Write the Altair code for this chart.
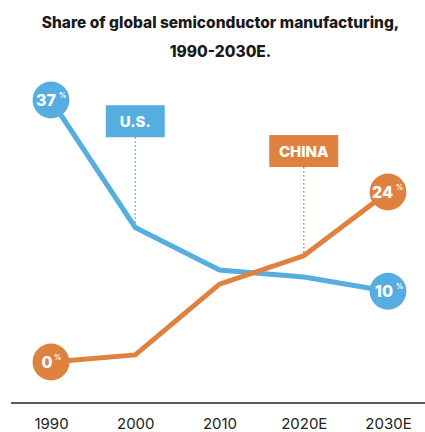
import altair as alt
import pandas as pd

years = ["1990", "2000", "2010", "2020E", "2030E"]
us_share = [37, 19, 13, 12, 10]
china_share = [0, 1, 11, 15, 24]
series = ["U.S.", "China"]
colors = ["#56ADE0", "#E0823F"]
dot_colors = ["#7FBFE8", "#E69A66"]

tag_text = ["U.S.", "CHINA"]
tag_series = ["U.S.", "China"]
tag_year = ["2000", "2020E"]
tag_center = [34.0, 29.8]
tag_target = [19, 15]
tag_width = [59, 69]
tag_half = 2.26

title_lines = ["Share of global semiconductor manufacturing,", "1990-2030E."]

FONT = "Inter"
W, H = 425, 333

rows = []
for s, vals in zip(series, [us_share, china_share]):
    for i, (y, v) in enumerate(zip(years, vals)):
        rows.append({"year": y, "series": s, "share": v,
                     "end": i in (0, len(years) - 1), "label": str(v), "pct": "%"})
df = pd.DataFrame(rows)
ends = df[df["end"]]

tags = pd.DataFrame({
    "tag": tag_text, "series": tag_series, "year": tag_year,
    "center": tag_center, "target": tag_target,
})
tags["top"] = tags["center"] + tag_half
tags["bottom"] = tags["center"] - tag_half

xenc = alt.X("year:O", sort=years,
             scale=alt.Scale(type="point", domain=years, range=[51, 388], padding=0),
             axis=alt.Axis(title=None, domain=False, ticks=False, grid=False,
                           labelAngle=0, labelFont=FONT, labelFontSize=15, labelFontWeight=400,
                           labelColor="#222222", labelPadding=13))
yscale = alt.Scale(domain=[0, 37], range=[292, 30], nice=False, zero=False)
color = alt.Color("series:N", scale=alt.Scale(domain=series, range=colors), legend=None)

lines = []
for s in series:
    lines.append(
        alt.Chart(df[df["series"] == s]).mark_line(strokeWidth=5, strokeJoin="miter").encode(
            x=xenc, y=alt.Y("share:Q", scale=yscale, axis=None), color=color, order="year:O")
    )

dots = alt.Chart(tags).mark_rule(strokeWidth=1.5, strokeDash=[1.5, 2.5]).encode(
    x=xenc, y=alt.Y("bottom:Q", scale=yscale, axis=None), y2="target:Q",
    color=alt.Color("series:N", scale=alt.Scale(domain=series, range=dot_colors), legend=None))

boxes = []
for i in range(len(tag_text)):
    boxes.append(
        alt.Chart(tags.iloc[[i]]).mark_bar(width=tag_width[i], color=colors[i]).encode(
            x=xenc, y=alt.Y("bottom:Q", scale=yscale, axis=None), y2="top:Q")
    )
tag_labels = alt.Chart(tags).mark_text(font=FONT, fontSize=15, fontWeight=800,
                                       color="white", baseline="middle", dy=1).encode(
    x=xenc, y=alt.Y("center:Q", scale=yscale, axis=None), text="tag:N")

circles = alt.Chart(ends).mark_circle(size=1360, opacity=1).encode(
    x=xenc, y=alt.Y("share:Q", scale=yscale, axis=None), color=color)

two = ends[ends["share"] >= 10]
one = ends[ends["share"] < 10]
nums = []
for d, ndx, pdx in [(two, 5, 8), (one, 1.5, 3)]:
    nums.append(alt.Chart(d).mark_text(font=FONT, fontSize=16, fontWeight=800, color="white",
                                       align="right", baseline="middle", dx=ndx, dy=1).encode(
        x=xenc, y=alt.Y("share:Q", scale=yscale, axis=None), text="label:N"))
    nums.append(alt.Chart(d).mark_text(font=FONT, fontSize=7, fontWeight=800, color="white",
                                       align="left", baseline="middle", dx=pdx, dy=-4).encode(
        x=xenc, y=alt.Y("share:Q", scale=yscale, axis=None), text="pct:N"))

axis_line = alt.Chart(pd.DataFrame({"a": [0]})).mark_rule(color="#222222", strokeWidth=1.5).encode(
    x=alt.value(11), x2=alt.value(425), y=alt.value(H))

chart = alt.layer(
    axis_line, lines[0], lines[1], dots, *boxes, tag_labels, circles, *nums
).properties(
    width=W, height=H,
    background="white",
    autosize=alt.AutoSizeParams(type="none"),
    padding={"left": 0, "right": 0, "top": 70, "bottom": 29},
    title=alt.TitleParams(text=title_lines, font=FONT, fontSize=15.5, fontWeight=800,
                          color="#1a1a1a", lineHeight=29, anchor="middle", dx=8, offset=10),
).configure_view(stroke=None)

chart.save("out.html", embed_options={"renderer": "svg", "actions": False})
